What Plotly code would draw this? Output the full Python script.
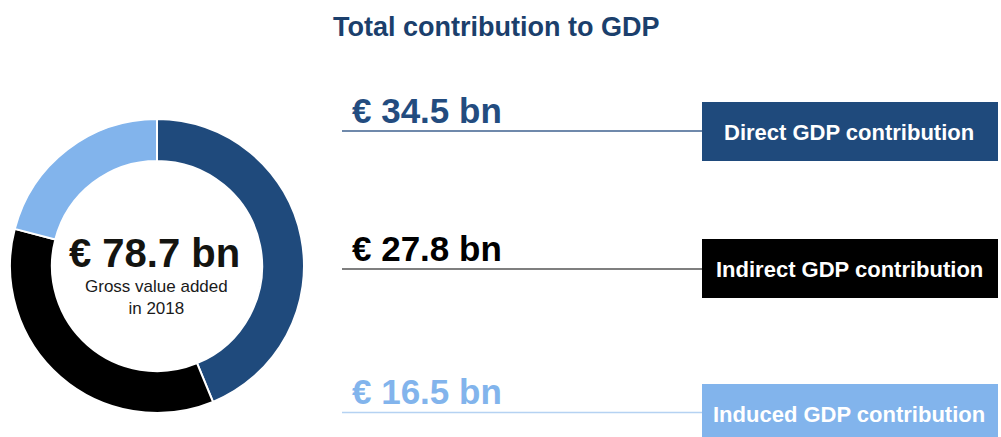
import plotly.graph_objects as go

# ---- data ----
categories = ["Direct GDP contribution", "Indirect GDP contribution", "Induced GDP contribution"]
values_bn = [34.5, 27.8, 16.5]
total_bn = 78.7
title_text = "Total contribution to GDP"
center_caption = "Gross value added<br>in 2018"

# ---- styles ----
slice_colors = ["#1F4A7C", "#000000", "#82B4EC"]
value_colors = ["#234C7F", "#000000", "#82B4EC"]
line_colors = ["#3F628F", "#555555", "#B5D2F2"]
FONT = "Arial, Liberation Sans, sans-serif"
W, H = 1001, 437


def px(x):
    return x / W


def py(y):
    return 1 - y / H


fig = go.Figure()
fig.add_trace(go.Pie(
    labels=categories,
    values=values_bn,
    sort=False,
    direction="clockwise",
    rotation=0,
    hole=0.715,
    marker=dict(colors=slice_colors, line=dict(color="white", width=2)),
    textinfo="none",
    hoverinfo="label+value",
    domain=dict(x=[px(10), px(304)], y=[py(413), py(119)]),
    showlegend=False,
))

annotations = []
shapes = []

# title
annotations.append(dict(x=px(496), y=py(27), xref="paper", yref="paper", text=f"<b>{title_text}</b>",
                        showarrow=False, xanchor="center", yanchor="middle",
                        font=dict(family=FONT, size=27, color="#1B3F6C")))
# centre
annotations.append(dict(x=px(154), y=py(253), xref="paper", yref="paper", text=f"<b>€ {total_bn:.1f} bn</b>",
                        showarrow=False, xanchor="center", yanchor="middle",
                        font=dict(family=FONT, size=40, color="#141410")))
annotations.append(dict(x=px(156), y=py(297), xref="paper", yref="paper", text=center_caption,
                        showarrow=False, xanchor="center", yanchor="middle",
                        font=dict(family=FONT, size=17, color="#1a1a1a")))

text_mid = [110.5, 248.5, 391.5]
line_y = [131, 269, 412.5]
box_y = [(102, 161), (239, 298), (384, 440)]
label_mid = [132.6, 269.6, 414.6]

for i, cat in enumerate(categories):
    annotations.append(dict(x=px(350), y=py(text_mid[i]), xref="paper", yref="paper",
                            text=f"<b>€ {values_bn[i]:.1f} bn</b>", showarrow=False,
                            xanchor="left", yanchor="middle",
                            font=dict(family=FONT, size=35, color=value_colors[i])))
    shapes.append(dict(type="line", xref="paper", yref="paper", x0=px(342), x1=px(703),
                       y0=py(line_y[i]), y1=py(line_y[i]),
                       line=dict(color=line_colors[i], width=1.5)))
    shapes.append(dict(type="rect", xref="paper", yref="paper", x0=px(702), x1=px(998),
                       y0=py(box_y[i][1]), y1=py(box_y[i][0]),
                       fillcolor=slice_colors[i], line=dict(width=0), layer="above"))
    annotations.append(dict(x=px(849), y=py(label_mid[i]), xref="paper", yref="paper",
                            text=f"<b>{cat}</b>", showarrow=False,
                            xanchor="center", yanchor="middle",
                            font=dict(family=FONT, size=22, color="white")))

fig.update_layout(
    width=W, height=H,
    margin=dict(l=0, r=0, t=0, b=0),
    paper_bgcolor="white", plot_bgcolor="white",
    annotations=annotations, shapes=shapes,
    showlegend=False,
)

fig.write_html("out.html", config={"displayModeBar": False},
               post_script="document.body.style.margin='0';")
